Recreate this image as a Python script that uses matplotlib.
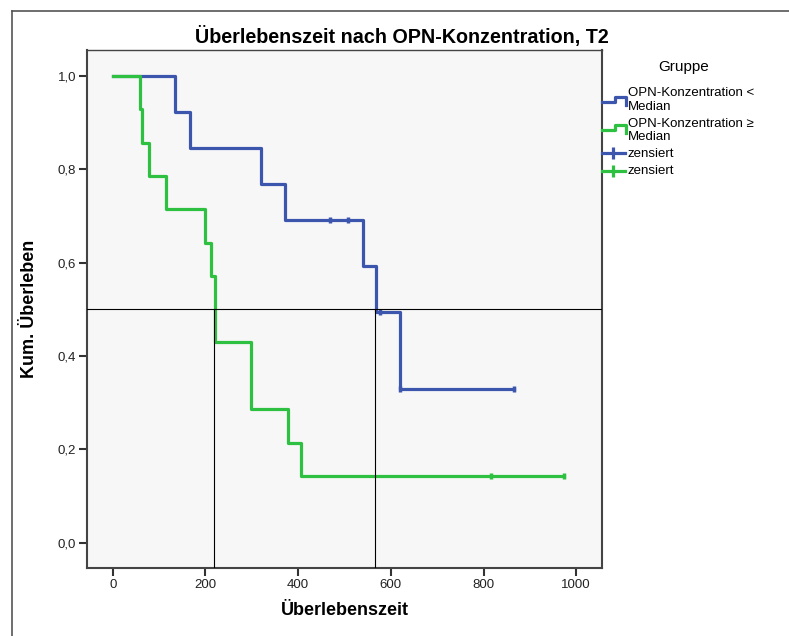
import matplotlib
matplotlib.use("Agg")
import matplotlib.pyplot as plt
from matplotlib.lines import Line2D

plt.rcParams['font.family'] = ['Liberation Sans', 'DejaVu Sans']

# Kaplan-Meier steps
blue_times = [0, 134, 167, 319, 372, 540, 568, 619, 865]
blue_surv = [1.0, 0.923, 0.846, 0.769, 0.692, 0.593, 0.494, 0.329, 0.329]
blue_cens_t = [469, 507, 577, 619, 865]
blue_cens_s = [0.692, 0.692, 0.494, 0.329, 0.329]

green_times = [0, 59, 64, 79, 115, 199, 212, 221, 298, 379, 406, 974]
green_surv = [1.0, 0.929, 0.857, 0.786, 0.714, 0.643, 0.571, 0.429, 0.286, 0.214, 0.143, 0.143]
green_cens_t = [817, 974]
green_cens_s = [0.143, 0.143]

median_level = 0.5
median_times = [219, 566]

group_labels = ['OPN-Konzentration <', 'OPN-Konzentration \u2265']
censor_label = 'zensiert'

BLUE = '#3C56AE'
GREEN = '#2EC040'
W, H = 789, 636


def fx(px):
    return px / W


def fy(py):
    return 1 - py / H


fig = plt.figure(figsize=(7.89, 6.36), dpi=100)
ax = fig.add_axes([fx(87.3), fy(567.7), fx(601.7) - fx(87.3), fy(49.5) - fy(567.7)])
ax.set_facecolor('#F7F7F7')

ylo, yhi = -0.0536, 1.0568
ax.set_xlim(-54.8, 1055)
ax.set_ylim(ylo, yhi)

ax.step(blue_times, blue_surv, where='post', color=BLUE, lw=2.3, zorder=3)
ax.plot(blue_cens_t, blue_cens_s, ls='none', marker='|', ms=5, mew=2.5, color=BLUE, zorder=3)
ax.step(green_times, green_surv, where='post', color=GREEN, lw=2.3, zorder=4)
ax.plot(green_cens_t, green_cens_s, ls='none', marker='|', ms=5, mew=2.5, color=GREEN, zorder=4)

ax.axhline(median_level, color='black', lw=0.8, zorder=5)
ax.vlines(median_times, ylo, median_level, color='black', lw=0.8, zorder=5)

ax.set_xticks([0, 200, 400, 600, 800, 1000])
ax.set_yticks([0.0, 0.2, 0.4, 0.6, 0.8, 1.0])
ax.set_yticklabels([f'{v:.1f}'.replace('.', ',') for v in ax.get_yticks()])
ax.tick_params(direction='out', length=6, width=1.5, color='#333333',
               labelsize=9.5, labelcolor='#222222', pad=2)
for s in ax.spines.values():
    s.set_color('#444444')
    s.set_linewidth(1.5)
ax.spines['top'].set_linewidth(1.0)

ax.set_xlabel('Überlebenszeit', fontsize=13, fontweight='bold', labelpad=8)
ax.set_ylabel('Kum. Überleben', fontsize=13, fontweight='bold', labelpad=14)

fig.text(fx(402), fy(37), 'Überlebenszeit nach OPN-Konzentration, T2',
         fontsize=14.2, fontweight='bold', ha='center', va='center')

# outer frame (left and top edges visible)
fig.add_artist(Line2D([fx(11.7), fx(11.7)], [fy(11), 0], color='#555555', lw=1.2))
fig.add_artist(Line2D([fx(11.7), 1], [fy(11), fy(11)], color='#555555', lw=1.2))

# legend drawn by hand
fig.text(fx(684), fy(66.7), 'Gruppe', fontsize=11, ha='center', va='center')
icons = [(101.7, 96.7, 105, BLUE), (130, 125, 133, GREEN)]
for (ylow, yhigh, yend, c) in icons:
    fig.add_artist(Line2D([fx(601.7), fx(615), fx(615), fx(626), fx(626)],
                          [fy(ylow), fy(ylow), fy(yhigh), fy(yhigh), fy(yend)],
                          color=c, lw=2.3))
for ycen, c in [(153.3, BLUE), (170.7, GREEN)]:
    fig.add_artist(Line2D([fx(601.7), fx(625)], [fy(ycen), fy(ycen)], color=c, lw=2.3))
    fig.add_artist(Line2D([fx(613)], [fy(ycen)], marker='|', ms=8, mew=2.3, color=c))

fig.text(fx(628), fy(93.3), group_labels[0], fontsize=9.5, va='center')
fig.text(fx(628), fy(106.7), 'Median', fontsize=9.5, va='center')
fig.text(fx(628), fy(124), group_labels[1], fontsize=9.5, va='center')
fig.text(fx(628), fy(137.3), 'Median', fontsize=9.5, va='center')
fig.text(fx(628), fy(154), censor_label, fontsize=9.5, va='center')
fig.text(fx(628), fy(170.7), censor_label, fontsize=9.5, va='center')

fig.savefig('out.png', dpi=100)
